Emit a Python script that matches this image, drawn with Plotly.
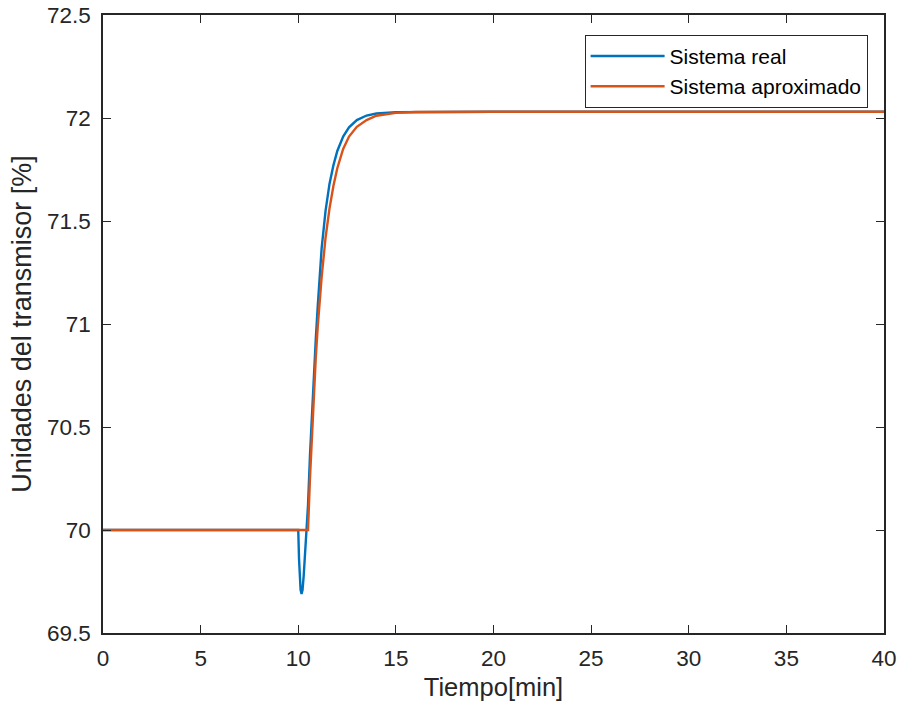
import plotly.graph_objects as go

# Values
t_real = [0, 10.0, 10.04, 10.08, 10.12, 10.17, 10.22, 10.28, 10.34, 10.40, 10.45,
          10.5, 10.6, 10.7, 10.8, 10.9, 11.0, 11.2, 11.4, 11.6, 11.8, 12.0,
          12.3, 12.6, 13.0, 13.5, 14.0, 15.0, 20.0, 40.0]
y_real = [70.0, 70.0, 69.86, 69.76, 69.71, 69.69, 69.71, 69.78, 69.87, 69.96, 70.02,
          70.12, 70.36, 70.57, 70.76, 70.93, 71.09, 71.37, 71.55, 71.68, 71.77, 71.84,
          71.91, 71.955, 71.99, 72.012, 72.022, 72.028, 72.03, 72.03]

t_aprox = [0, 10.5, 10.6, 10.7, 10.8, 10.9, 11.0, 11.2, 11.4, 11.6, 11.8, 12.0,
           12.3, 12.6, 13.0, 13.5, 14.0, 15.0, 16.0, 20.0, 40.0]
y_aprox = [70.0, 70.0, 70.25, 70.475, 70.67, 70.84, 70.99, 71.23, 71.42, 71.56,
           71.67, 71.756, 71.85, 71.91, 71.957, 71.99, 72.011, 72.025, 72.029, 72.03, 72.03]

x_ticks = [0, 5, 10, 15, 20, 25, 30, 35, 40]
y_ticks = [69.5, 70, 70.5, 71, 71.5, 72, 72.5]
y_tick_text = ["69.5", "70", "70.5", "71", "71.5", "72", "72.5"]

FONT = "Liberation Sans, Arial, sans-serif"
AX = "#262626"

fig = go.Figure()
fig.add_trace(go.Scatter(x=t_real, y=y_real, mode="lines", name="Sistema real",
                         line=dict(color="#0072BD", width=2.4)))
fig.add_trace(go.Scatter(x=t_aprox, y=y_aprox, mode="lines", name="Sistema aproximado",
                         line=dict(color="#D95319", width=2.4)))

axis_common = dict(showline=True, linecolor=AX, linewidth=1.5, mirror="ticks",
                   ticks="inside", ticklen=8, tickcolor=AX, tickwidth=1.2,
                   showgrid=False, zeroline=False, automargin=False,
                   tickfont=dict(family=FONT, size=22.5, color=AX))

fig.update_xaxes(range=[0, 40], tickvals=x_ticks, ticklabelstandoff=4,
                 title=dict(text="Tiempo[min]", font=dict(family=FONT, size=25.5, color=AX), standoff=8),
                 **axis_common)
fig.update_yaxes(range=[69.5, 72.5], tickvals=y_ticks, ticktext=y_tick_text, ticklabelstandoff=6,
                 title=dict(text="Unidades del transmisor [%]", font=dict(family=FONT, size=27, color=AX), standoff=8),
                 **axis_common)

fig.update_layout(
    width=900, height=709,
    margin=dict(l=103, r=16, t=15, b=76),
    paper_bgcolor="white", plot_bgcolor="white",
    font=dict(family=FONT, color=AX),
    legend=dict(x=0.979, y=0.968, xanchor="right", yanchor="top",
                bgcolor="white", bordercolor=AX, borderwidth=1,
                font=dict(family=FONT, size=21, color="black"),
                itemwidth=74, tracegroupgap=0),
    showlegend=True,
)

fig.write_html("out.html")
